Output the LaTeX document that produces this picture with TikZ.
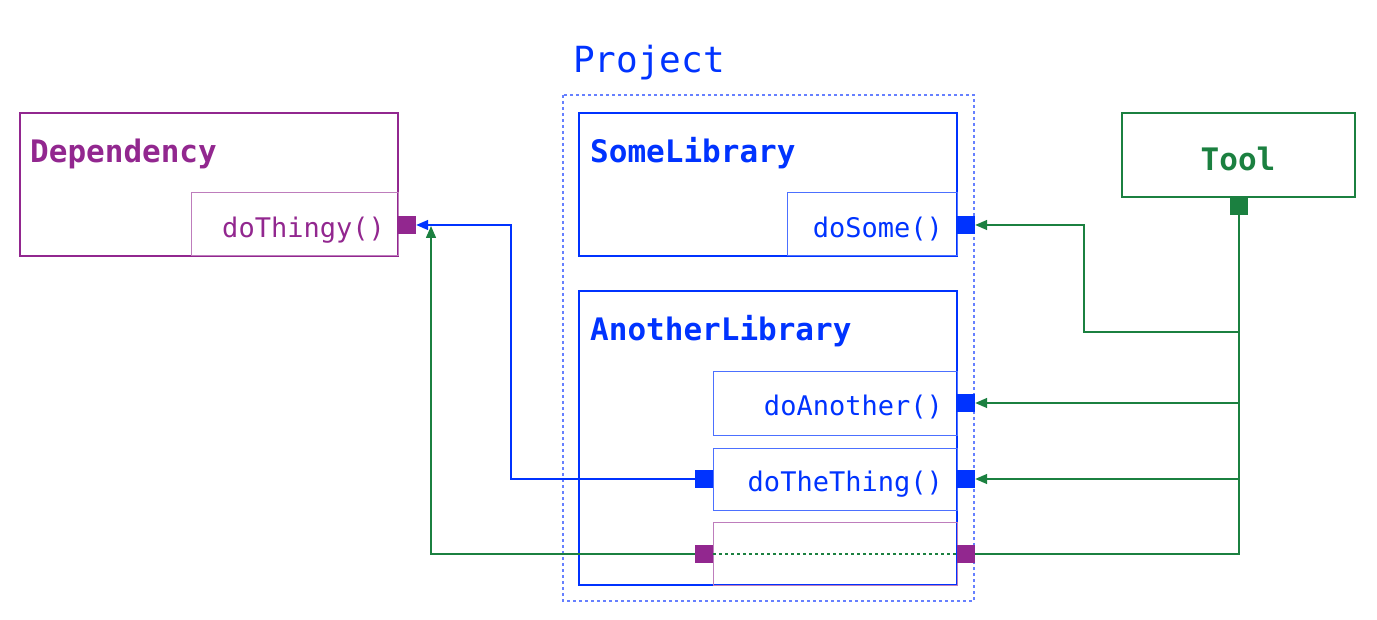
\documentclass[tikz,border=0pt]{standalone}
\usepackage{fontspec}
\setmonofont{DejaVu Sans Mono}
\usetikzlibrary{arrows.meta}
\definecolor{pur}{HTML}{92278F}
\definecolor{blu}{HTML}{0033FF}
\definecolor{grn}{HTML}{1B8040}
\definecolor{projdash}{HTML}{6680FF}
\begin{document}
\begin{tikzpicture}[x=1pt,y=-1pt,
 title/.style={font=\ttfamily\bfseries\fontsize{31}{31}\selectfont,anchor=base west,inner sep=0},
 meth/.style={font=\ttfamily\fontsize{27}{27}\selectfont,anchor=base east,inner sep=0},
 port/.style={draw=none,minimum size=18pt,inner sep=0},
 arr/.style={-{Triangle[length=12pt,width=10pt]}},
 lw/.style={line width=1.5pt}]
\useasboundingbox (0,0) rectangle (1377,620);
% project
\draw[projdash,dashed,line width=1.2pt] (563,95) rectangle (974,601);
\node[font=\ttfamily\fontsize{36}{36}\selectfont,text=blu,anchor=base west,inner sep=0] (proj) at (573,73) {Project};
% Dependency
\draw[pur,lw] (20,113) rectangle (398,256);
\draw[pur!60,line width=1pt] (191,193) rectangle (398,256);
\node[title,text=pur] (dep) at (30,163) {Dependency};
\node[meth,text=pur] (dthing) at (385,238) {doThingy()};
% SomeLibrary
\draw[blu,lw] (579,113) rectangle (957,256);
\draw[blu!70,line width=1pt] (787,193) rectangle (957,256);
\node[title,text=blu] (sl) at (590,163) {SomeLibrary};
\node[meth,text=blu] (dsome) at (943,238) {doSome()};
% AnotherLibrary
\draw[blu,lw] (579,291) rectangle (957,585);
\draw[blu!70,line width=1pt] (713,372) rectangle (957,435);
\draw[blu!70,line width=1pt] (713,448) rectangle (957,510);
\draw[pur!60,line width=1pt] (713,522) rectangle (957,585);
\node[title,text=blu] (al) at (590,341) {AnotherLibrary};
\node[meth,text=blu] (danother) at (943,415) {doAnother()};
\node[meth,text=blu] (dthe) at (943,491) {doTheThing()};
% Tool
\draw[grn,lw] (1122,113) rectangle (1355,197);
\node[font=\ttfamily\bfseries\fontsize{31}{31}\selectfont,text=grn,anchor=base,inner sep=0] (tool) at (1238,171) {Tool};
% ports
\node[port,fill=pur] (pdep) at (407,225) {};
\node[port,fill=blu] (psome) at (966,225) {};
\node[port,fill=blu] (panother) at (966,403) {};
\node[port,fill=blu] (pthe) at (966,479) {};
\node[port,fill=blu] (ptheL) at (704,479) {};
\node[port,fill=pur] (pvR) at (966,554) {};
\node[port,fill=pur] (pvL) at (704,554) {};
\node[port,fill=grn] (ptool) at (1239,206) {};
\coordinate (j1) at (1239,332);
\coordinate (j2) at (1239,403);
\coordinate (j3) at (1239,479);
\coordinate (j4) at (1239,554);
% connectors
\draw[grn,lw] (ptool.south) -- (j4) -- (pvR.east);
\draw[grn,lw,arr] (j1) -- (1084,332) -- (1084,225) -- (psome.east);
\draw[grn,lw,arr] (j2) -- (panother.east);
\draw[grn,lw,arr] (j3) -- (pthe.east);
\draw[grn,line width=1.2pt,dashed] (pvL.east) -- (pvR.west);
\draw[grn,lw,arr] (pvL.west) -- (431,554) -- (431,226);
\draw[blu,lw,arr] (ptheL.west) -- (511,479) -- (511,225) -- (pdep.east);
\end{tikzpicture}
\end{document}
